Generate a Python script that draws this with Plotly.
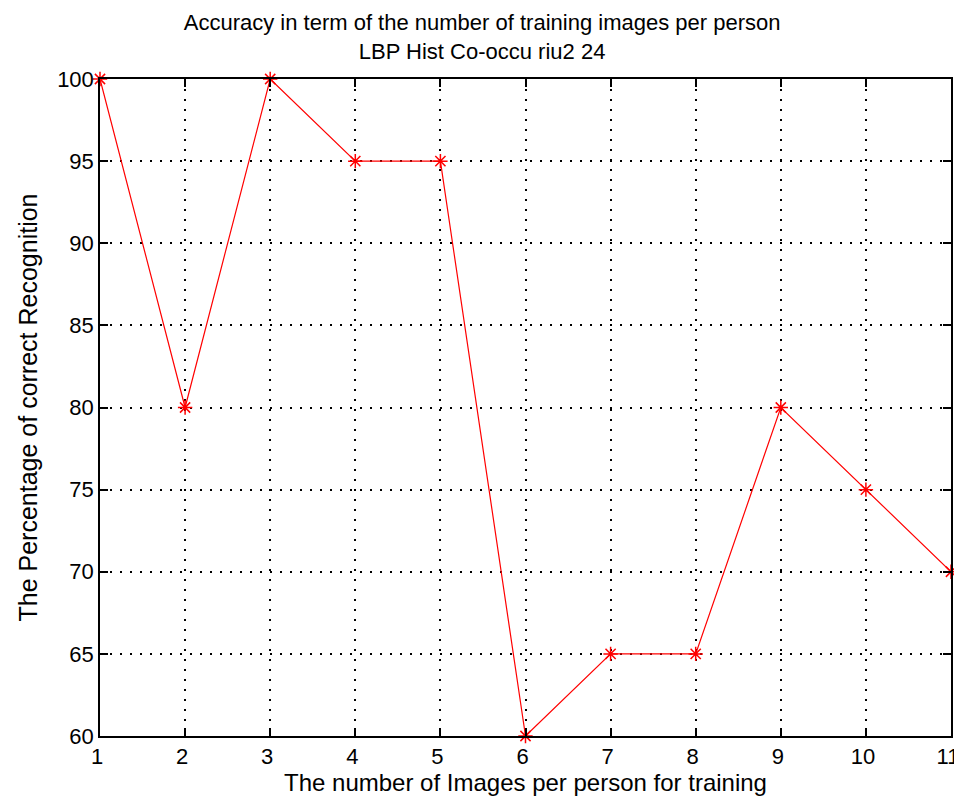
import plotly.graph_objects as go

images_per_person = [1, 2, 3, 4, 5, 6, 7, 8, 9, 10, 11]
accuracy = [100, 80, 100, 95, 95, 60, 65, 65, 80, 75, 70]
x_ticks = list(range(1, 12))
y_ticks = [60, 65, 70, 75, 80, 85, 90, 95, 100]

font = "Liberation Sans, Arial, sans-serif"

fig = go.Figure()
fig.add_trace(go.Scatter(
    x=images_per_person, y=accuracy, mode="lines+markers",
    line=dict(color="red", width=1.2),
    marker=dict(symbol="asterisk-open", size=12, color="red", line=dict(color="red", width=1.5)),
    cliponaxis=False,
))

axis_common = dict(
    showline=True, linecolor="black", linewidth=1.5, mirror="ticks",
    ticks="inside", ticklen=8, tickcolor="black", tickwidth=1.5,
    showgrid=True, gridcolor="black", gridwidth=1.5, griddash="2px,8px",
    zeroline=False, tickfont=dict(family=font, size=22, color="black"),
    automargin=False, ticklabeloverflow="allow",
)

fig.update_layout(
    width=954, height=800,
    paper_bgcolor="white", plot_bgcolor="white",
    margin=dict(l=92, r=11, t=71, b=72),
    showlegend=False,
    title=dict(
        text="Accuracy in term of the number of training images per person<br>LBP Hist Co-occu riu2 24",
        x=0.449, xref="paper", xanchor="center", y=0.972, yanchor="middle",
        font=dict(family=font, size=22, color="black"),
    ),
    xaxis=dict(range=[1, 11], tickvals=x_ticks, ticklabelshift=-3,
               title=dict(text="The number of Images per person for training",
                          font=dict(family=font, size=24, color="black"), standoff=4),
               **axis_common),
    yaxis=dict(range=[60, 100], tickvals=y_ticks,
               title=dict(text="The Percentage of correct Recognition",
                          font=dict(family=font, size=25, color="black"), standoff=12),
               **axis_common),
)

fig.write_html("out.html")
